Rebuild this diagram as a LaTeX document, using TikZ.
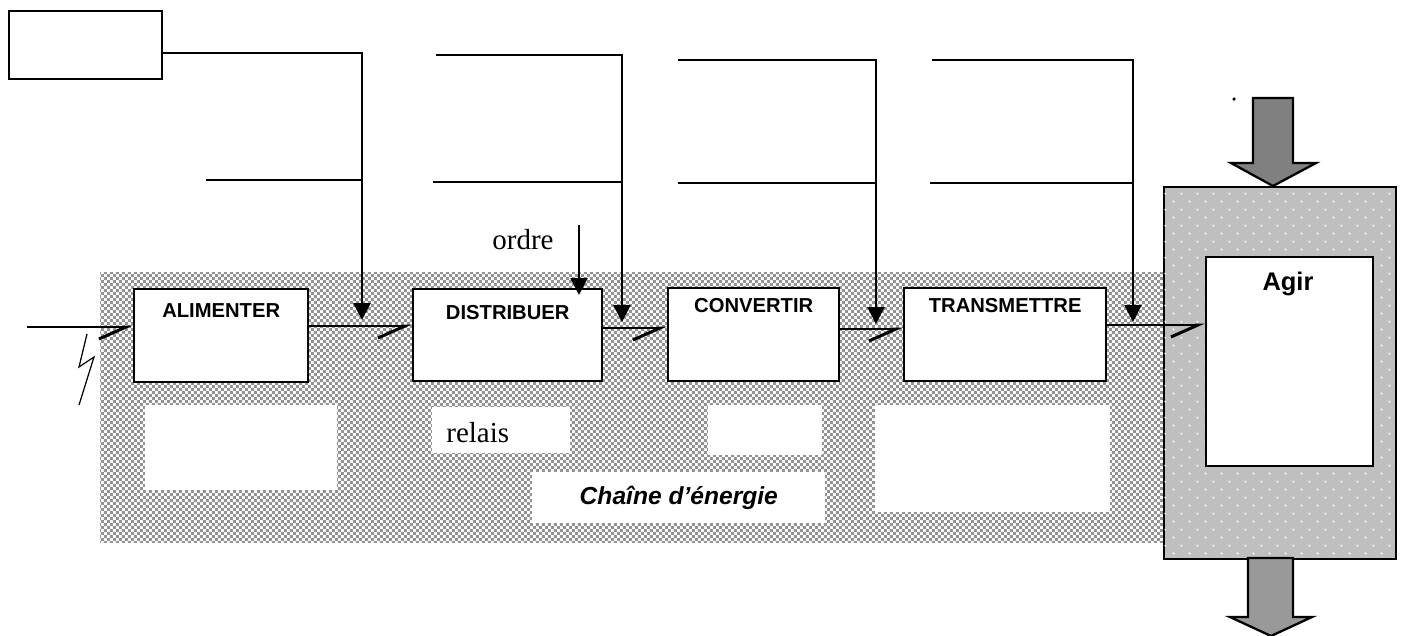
\documentclass[tikz,border=0pt]{standalone}
\usepackage{fontspec}
\setmainfont{Liberation Serif}
\newfontfamily\arial{Liberation Sans}
\usetikzlibrary{arrows.meta,calc,positioning,patterns}

% small checks behind the energy chain
\pgfdeclarepatternformonly{finechecks}{\pgfpointorigin}{\pgfqpoint{3.4pt}{3.4pt}}{\pgfqpoint{3.4pt}{3.4pt}}{%
  \pgfpathrectangle{\pgfpointorigin}{\pgfqpoint{1.7pt}{1.7pt}}
  \pgfpathrectangle{\pgfqpoint{1.7pt}{1.7pt}}{\pgfqpoint{1.7pt}{1.7pt}}
  \pgfusepath{fill}}
% light dots on the gray of the effector block
\pgfdeclarepatternformonly{sparkle}{\pgfpointorigin}{\pgfqpoint{9pt}{9pt}}{\pgfqpoint{9pt}{9pt}}{%
  \pgfpathcircle{\pgfqpoint{2pt}{2pt}}{0.6pt}
  \pgfpathcircle{\pgfqpoint{6.5pt}{6.5pt}}{0.6pt}
  \pgfusepath{fill}}

\tikzset{
  block/.style={draw,line width=1.4pt,fill=white,inner sep=0pt,anchor=north west},
  field/.style={fill=white,inner sep=0pt,anchor=north west},
  blocklabel/.style={font=\arial\bfseries\fontsize{11.5}{13}\selectfont,inner sep=0pt},
  link/.style={line width=1.7pt,-{Straight Barb[harpoon,swap,length=5.4mm,width=4.8mm]}},
  feed/.style={line width=1.3pt},
  down/.style={feed,-{Triangle[length=3.4mm,width=3.4mm]}},
  bigarrow/.style={draw,line width=1.3pt,line join=miter},
}

\begin{document}
\begin{tikzpicture}[x=0.02cm,y=-0.02cm]
  \useasboundingbox (0,0) rectangle (1401,636);

  % energy chain background
  \fill[pattern=finechecks,pattern color=gray!85] (100,272) rectangle (1165,542);
  \node[field,minimum width=3.84cm,minimum height=1.70cm] (f1) at (145,405) {};
  \node[field,minimum width=2.76cm,minimum height=0.92cm] (f2) at (432,407) {};
  \node[field,minimum width=2.28cm,minimum height=1.00cm] (f3) at (708,405) {};
  \node[field,minimum width=4.70cm,minimum height=2.14cm] (f4) at (875,405) {};
  \node[field,minimum width=5.86cm,minimum height=1.02cm,
    font=\arial\bfseries\itshape\fontsize{14}{16}\selectfont] (chain) at (532,472) {Chaîne d’énergie};
  \node[anchor=base west,inner sep=0pt,font=\fontsize{16.5}{18}\selectfont] (relais) at (446,442) {relais};

  % effector block
  \node[block,fill=black!25,postaction={pattern=sparkle,pattern color=white},
    minimum width=4.64cm,minimum height=7.44cm] (eff) at (1163,186) {};
  \node[block,minimum width=3.34cm,minimum height=4.18cm] (agir) at (1205,256) {};
  \node[anchor=base,inner sep=0pt,font=\arial\bfseries\fontsize{14.5}{16}\selectfont] (agirlbl) at (1288,290) {Agir};
  \draw[bigarrow,fill=black!50] (1253,98) -- (1293,98) -- (1293,163) -- (1316,163)
    -- (1273,186) -- (1231,163) -- (1253,163) -- cycle;
  \draw[bigarrow,fill=black!40] (1248,558) -- (1293,558) -- (1293,617) -- (1312,617)
    -- (1271,636) -- (1230,617) -- (1248,617) -- cycle;
  \fill (1234,99) circle (1pt);

  % functional blocks
  \node[block,minimum width=3.06cm,minimum height=1.36cm] (cmd) at (8,10) {};
  \node[block,minimum width=3.48cm,minimum height=1.86cm] (alim) at (133,288) {};
  \node[block,minimum width=3.78cm,minimum height=1.84cm] (dist) at (412,288) {};
  \node[block,minimum width=3.42cm,minimum height=1.86cm] (conv) at (667,287) {};
  \node[block,minimum width=4.04cm,minimum height=1.86cm] (trans) at (903,287) {};
  \node[blocklabel,below=0.3cm of alim.north] {ALIMENTER};
  \node[blocklabel,below=0.34cm of dist.north] {DISTRIBUER};
  \node[blocklabel,below=0.22cm of conv.north] {CONVERTIR};
  \node[blocklabel,below=0.22cm of trans.north] {TRANSMETTRE};

  % power flow
  \coordinate (src) at (27,327);
  \draw[link] (src) -- (src -| alim.west);
  \draw[link] (alim.east |- 0,326) -- (dist.west |- 0,326);
  \draw[link] (dist.east |- 0,328) -- (conv.west |- 0,328);
  \draw[link] (conv.east |- 0,329) -- (trans.west |- 0,329);
  \draw[link] (trans.east |- 0,325) -- (agir.west |- 0,325);
  \draw[line width=0.7pt] (87,334) -- (79,367) -- (94,357) -- (79,405);

  % feeds from above
  \coordinate (t1) at (362,320);
  \coordinate (m1) at (206,180);
  \draw[down] ([yshift=-0.16cm]cmd.east) -| (t1);
  \draw[feed] (m1) -- (m1 -| t1);

  \coordinate (h2) at (436,55);
  \coordinate (m2) at (433,182);
  \coordinate (t2) at (622,322);
  \draw[down] (h2) -| (t2);
  \draw[feed] (m2) -- (m2 -| t2);

  \coordinate (h3) at (678,60);
  \coordinate (m3) at (678,183);
  \coordinate (t3) at (876,324);
  \draw[down] (h3) -| (t3);
  \draw[feed] (m3) -- (m3 -| t3);

  \coordinate (h4) at (932,60);
  \coordinate (m4) at (930,183);
  \coordinate (t4) at (1133,322);
  \draw[down] (h4) -| (t4);
  \draw[feed] (m4) -- (m4 -| t4);

  % order to the distributor
  \coordinate (ord) at (579,225);
  \draw[down] (ord) -- (ord |- 0,295);
  \node[anchor=base,inner sep=0pt,font=\fontsize{16.5}{18}\selectfont] (ordre) at (523,249) {ordre};
\end{tikzpicture}
\end{document}
